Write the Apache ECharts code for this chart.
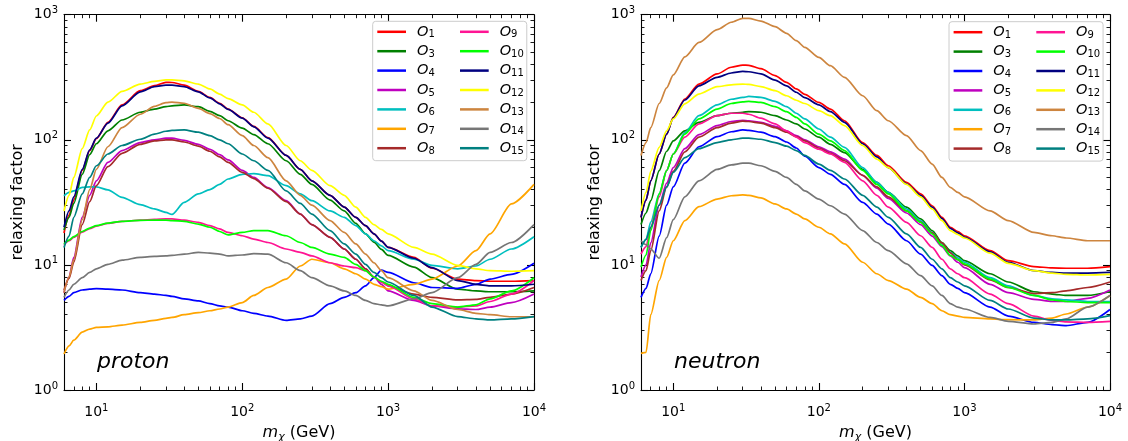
<!DOCTYPE html>
<html><head><meta charset="utf-8">
<script src="https://cdn.jsdelivr.net/npm/echarts@6/dist/echarts.min.js"></script>
<style>html,body{margin:0;padding:0;background:#fff}#c{width:1128px;height:441px}</style>
</head><body><div id="c"></div>
<script>
// ---------------- DATA ----------------
const mass = [6, 6.5, 7, 8, 9, 10, 12, 15, 20, 25, 30, 33, 40, 50, 60, 70, 80, 100, 120, 150, 200, 250, 300, 400, 500, 600, 700, 800, 900, 1000, 1500, 2000, 3000, 4000, 5000, 7000, 10000];
const operators = ['O1','O3','O4','O5','O6','O7','O8','O9','O10','O11','O12','O13','O14','O15'];
const xMajorTicks = [10, 100, 1000, 10000];
const xMinorTicks = [6,7,8,9,20,30,40,50,60,70,80,90,200,300,400,500,600,700,800,900,2000,3000,4000,5000,6000,7000,8000,9000];
const yMajorTicks = [1, 10, 100, 1000];
const yMinorTicks = [2,3,4,5,6,7,8,9,20,30,40,50,60,70,80,90,200,300,400,500,600,700,800,900];
const panelLabels = ['proton', 'neutron'];
const xTitle = 'm|χ| (GeV)';
const yTitle = 'relaxing factor';

// proton
const pO1  = [18, 25, 33, 57, 82, 102, 138, 190, 247, 271, 288, 287, 274, 244, 218, 196, 176, 150, 128, 104, 75, 58, 47, 36, 29, 24, 20.6, 17.7, 15.5, 13.8, 11.5, 9.4, 7.7, 7.5, 7.4, 7.4, 7.5];
const pO3  = [19, 24, 31, 53, 76, 93, 118, 144, 166, 176, 184, 187, 190, 184, 169, 156, 142, 124, 110, 93, 68, 53, 44, 33, 27, 21.5, 17.7, 15.2, 13.3, 11.9, 9.6, 7.9, 6.4, 6.2, 6.1, 6.1, 6.2];
const pO4  = [5.2, 5.6, 6.0, 6.3, 6.4, 6.45, 6.4, 6.3, 6.0, 5.85, 5.7, 5.6, 5.35, 5.15, 4.9, 4.7, 4.6, 4.3, 4.1, 3.9, 3.6, 3.7, 3.9, 4.9, 5.5, 6.0, 6.8, 7.9, 9.1, 8.7, 7.2, 6.6, 6.5, 7.0, 7.7, 8.4, 10.3];
const pO5  = [6.0, 8, 11.5, 24, 36, 47, 66, 82, 95, 100, 103, 103, 99, 92, 84, 76, 69, 57, 50, 41.5, 32.6, 25.5, 21, 16.6, 13.4, 11.1, 9.3, 8.0, 7.0, 6.2, 5.2, 4.7, 4.45, 4.4, 4.6, 5.0, 5.85];
const pO6  = [35.7, 38, 39, 41.7, 42, 42, 39.8, 34.7, 30.3, 28, 26.3, 25.3, 31.6, 37, 40, 44, 48.6, 53, 53.6, 51.7, 43, 37, 32.6, 27, 24, 20.6, 17.7, 15.6, 14.2, 13.0, 11.1, 9.9, 9.3, 9.8, 11.1, 13.4, 16.8];
const pO7  = [1.94, 2.25, 2.5, 2.9, 3.07, 3.17, 3.2, 3.3, 3.47, 3.6, 3.74, 3.8, 4.0, 4.15, 4.3, 4.44, 4.6, 5.0, 5.7, 6.6, 7.7, 9.8, 11.1, 10.4, 9.3, 8.5, 7.7, 7.0, 6.7, 6.4, 7.0, 7.7, 9.8, 13.0, 17.7, 30.7, 44];
const pO8  = [6.3, 7.8, 10.5, 21, 32, 43, 61, 78, 92, 98, 100, 100, 96, 89, 81, 73, 66, 55, 49, 41, 32, 25.5, 21, 16.6, 13.4, 11.1, 9.3, 8.0, 7.3, 6.8, 5.85, 5.5, 5.25, 5.3, 5.5, 5.85, 6.6];
const pO9  = [14.5, 15.6, 16.6, 18.3, 19.5, 20.4, 21.5, 22.3, 22.8, 23.1, 23.3, 23.3, 22.8, 21.9, 20.6, 19.4, 18.2, 17.1, 16.1, 15.1, 13.4, 12.6, 11.8, 10.4, 9.8, 9.5, 9.0, 8.0, 7.3, 6.8, 5.35, 4.7, 4.6, 4.7, 5.1, 5.85, 7.5];
const pO10 = [14.7, 15.8, 16.8, 18.5, 19.7, 20.6, 21.6, 22.3, 22.7, 22.8, 22.8, 22.6, 22.3, 21.2, 20.0, 18.5, 17.4, 18.2, 18.8, 18.8, 17.1, 15.1, 13.8, 12.2, 11.5, 10.1, 9.0, 8.0, 7.4, 7.0, 5.5, 4.9, 4.6, 4.8, 5.35, 6.2, 7.9];
const pO11 = [20, 27, 35, 58, 83, 103, 136, 187, 242, 266, 274, 274, 266, 242, 216, 194, 175, 149, 127, 103, 75, 58, 47, 36, 29, 24, 20.6, 17.7, 15.5, 13.8, 11.3, 9.5, 7.5, 7.0, 6.8, 6.8, 7.0];
const pO12 = [27, 36, 50, 85, 120, 155, 200, 244, 279, 293, 301, 301, 296, 279, 255, 232, 213, 190, 166, 134, 90, 68, 57, 43, 36, 29, 24, 21, 19.2, 17.7, 13.8, 12.2, 9.9, 9.3, 9.0, 8.9, 9.0];
const pO13 = [6.0, 8, 11, 23, 40, 58, 88, 125, 160, 185, 198, 200, 196, 178, 162, 148, 132, 108, 90, 72, 47, 36, 30, 22.6, 18.2, 14.7, 12.2, 10.4, 9.0, 7.9, 6.2, 5.2, 4.4, 4.1, 4.0, 3.85, 3.85];
const pO14 = [5.5, 6.3, 7.0, 7.9, 8.7, 9.3, 10.1, 10.9, 11.5, 11.7, 11.8, 11.9, 12.2, 12.6, 12.4, 12.2, 11.8, 12.0, 12.3, 12.2, 10.4, 9.0, 7.9, 6.8, 6.2, 5.7, 5.2, 4.9, 4.8, 4.7, 5.35, 6.0, 7.9, 10.1, 12.6, 15.1, 21];
const pO15 = [13.8, 17, 24, 37, 50, 62, 77, 90, 101, 111, 117, 119, 120, 115, 108, 100, 93, 77, 68, 57, 39, 31, 25.5, 18.8, 14.7, 12.2, 10.1, 8.7, 7.9, 7.3, 5.7, 4.6, 3.86, 3.7, 3.63, 3.7, 3.86];

// neutron
const nO1  = [24, 33, 47, 77, 111, 151, 212, 279, 336, 380, 396, 394, 370, 326, 288, 255, 231, 199, 176, 142, 95, 75, 62, 45.7, 37, 29.7, 24, 20, 18.5, 17.1, 13.0, 10.8, 9.7, 9.45, 9.4, 9.4, 9.7];
const nO3  = [21, 26, 32.6, 56.7, 81, 98, 118, 138, 156, 163, 166, 168, 166, 156, 144, 134, 122, 105, 92, 79, 58, 45.7, 38, 29, 23.3, 18.8, 15.1, 13.0, 11.8, 10.8, 8.5, 7.3, 6.1, 5.85, 5.7, 5.7, 6.1];
const nO4  = [5.5, 6.5, 8.5, 17, 30, 42, 65, 88, 106, 116, 120, 119, 115, 106, 96, 86, 74, 60, 53, 44, 31.6, 25.5, 21.2, 15.6, 12.2, 9.9, 8.2, 7.0, 6.5, 6.0, 4.6, 3.9, 3.47, 3.33, 3.27, 3.47, 4.4];
const nO5  = [8, 10, 15, 30, 45, 60, 85, 110, 130, 140, 143, 142, 138, 128, 118, 108, 100, 88, 80, 70, 52, 41, 34, 26, 21, 17, 14, 11.8, 10.5, 9.5, 7.0, 6.0, 5.3, 5.1, 5.1, 5.4, 6.3];
const nO6  = [13.8, 16, 22, 37, 56.7, 77, 114, 156, 190, 211, 218, 222, 218, 203, 184, 163, 147, 122, 105, 87, 60, 45.7, 38, 28, 22.6, 18.2, 14.7, 12.6, 11.4, 10.5, 7.9, 6.8, 5.7, 5.35, 5.25, 5.1, 5.1];
const nO7  = [1.96, 2.0, 4.0, 7.5, 11.5, 15.6, 22.6, 29.2, 33.6, 35.7, 36.3, 36, 34.3, 30.7, 28, 25.5, 23.3, 20, 17.7, 14.7, 10.5, 8.5, 7.5, 6.4, 5.5, 4.9, 4.3, 4.0, 3.9, 3.8, 3.7, 3.65, 3.63, 3.76, 4.05, 4.6, 5.7];
const nO8  = [7.5, 9, 13, 27, 42, 56, 80, 105, 125, 136, 141, 140, 136, 125, 115, 106, 98, 86, 78, 68, 52, 42, 35, 27, 22, 18, 15, 12.5, 11, 10, 7.6, 6.6, 5.9, 6.0, 6.2, 6.6, 7.3];
const nO9  = [12.2, 14, 20, 35, 56.7, 77, 105, 134, 156, 163, 163, 160, 149, 134, 118, 105, 95, 84, 77, 66, 47, 36, 29, 21.9, 17.1, 13.8, 11.1, 9.3, 8.5, 7.9, 5.85, 4.9, 3.9, 3.6, 3.5, 3.47, 3.54];
const nO10 = [9.6, 12, 18.8, 37, 56.7, 77, 111, 147, 176, 195, 201, 203, 199, 184, 168, 151, 134, 111, 98, 82, 57, 44, 37, 27, 21.9, 17.7, 14.3, 11.9, 11, 10.2, 7.7, 6.6, 5.7, 5.25, 5.1, 5.0, 5.0];
const nO11 = [24, 33, 47, 77, 111, 150, 208, 270, 316, 342, 352, 350, 337, 300, 270, 240, 217, 190, 168, 138, 93, 73, 60, 44.5, 36, 29, 23.5, 19.6, 18, 16.7, 12.7, 10.5, 9.0, 8.7, 8.6, 8.6, 8.7];
const nO12 = [27, 38, 56, 87, 118, 147, 194, 232, 266, 275, 279, 277, 266, 247, 225, 207, 195, 171, 156, 130, 90, 70, 60, 44, 35, 28, 22.6, 18.8, 17.5, 16.4, 12.4, 10.3, 9.0, 8.6, 8.4, 8.3, 8.4];
const nO13 = [75, 95, 125, 195, 260, 330, 460, 600, 760, 870, 935, 935, 890, 802, 710, 620, 548, 456, 391, 316, 225, 171, 142, 108, 82, 64, 50, 41.7, 38, 35, 27, 22.6, 18.2, 17.1, 16.4, 15.6, 15.6];
const nO14 = [15.6, 14.5, 13.4, 11.3, 16.5, 23, 35, 47, 58, 63, 65, 65, 62, 56, 50, 44, 39, 33.6, 29.7, 25.5, 18.8, 15.1, 13.0, 10.2, 8.2, 6.8, 5.7, 4.9, 4.6, 4.44, 3.8, 3.54, 3.37, 3.47, 3.7, 4.6, 5.7];
const nO15 = [13.8, 16, 20, 30, 42, 55, 72, 85, 95, 100, 103, 103, 101, 95, 89, 82, 75, 64, 57, 48.6, 36, 29, 24, 17.7, 13.8, 11.1, 9.3, 7.9, 7.3, 6.8, 5.2, 4.44, 3.76, 3.63, 3.63, 3.7, 3.93];

const protonSets  = [pO1, pO3, pO4, pO5, pO6, pO7, pO8, pO9, pO10, pO11, pO12, pO13, pO14, pO15];
const neutronSets = [nO1, nO3, nO4, nO5, nO6, nO7, nO8, nO9, nO10, nO11, nO12, nO13, nO14, nO15];

// ---------------- STYLE ----------------
const FONT = 'DejaVu Sans';
const lineColors = ['#ff0000','#008000','#0000ff','#bf00bf','#00bfbf','#ffa500','#a52a2a','#ff1493','#00ff00','#000080','#ffff00','#cd853f','#767676','#008080'];
const grids = [
  {left: 64, top: 14.7, width: 470, height: 375.3, outerBoundsMode: 'none', containLabel: false},
  {left: 641, top: 14.7, width: 469, height: 375.3, outerBoundsMode: 'none', containLabel: false}
];
const legendPos = [{left: 372.7, top: 21.3}, {left: 949, top: 21.7}];

function powLabel(v) {
  const e = Math.round(Math.log10(v));
  return '{b|10}{s|' + e + '}';
}
const labelRich = {
  b: {fontSize: 14, lineHeight: 18, fontFamily: FONT, color: '#000'},
  s: {fontSize: 10, lineHeight: 10, verticalAlign: 'top', fontFamily: FONT, color: '#000'}
};

function makeAxes(isX, g) {
  const major = isX ? xMajorTicks : yMajorTicks;
  const minor = isX ? xMinorTicks : yMinorTicks;
  const min = isX ? 6 : 1, max = isX ? 10000 : 1000;
  const pos = isX ? ['bottom', 'top'] : ['left', 'right'];
  const out = [];
  pos.forEach((p, pi) => {
    [major, minor].forEach((vals, mi) => {
      const main = pi === 0 && mi === 0;
      const ax = {
        type: 'log', logBase: 10, gridIndex: g, position: p, min: min, max: max,
        splitLine: {show: false},
        axisLine: {show: mi === 0, onZero: false, lineStyle: {color: '#000', width: 1.1}},
        axisTick: {show: true, inside: true, length: mi === 0 ? 7 : 3.5, customValues: vals,
                   lineStyle: {color: '#000', width: mi === 0 ? 1.1 : 0.9, opacity: 1}},
        axisLabel: {show: main, customValues: major, formatter: powLabel, rich: labelRich,
                    margin: isX ? 13 : 6, fontFamily: FONT, fontSize: 14, color: '#000'},
        axisPointer: {show: false}
      };
      if (main) {
        if (isX) {
          const parts = xTitle.split('|');
          ax.name = '{it|' + parts[0] + '}{sub|' + parts[1] + '}{n|' + parts[2] + '}';
          ax.nameLocation = 'middle';
          ax.nameGap = 33;
          ax.nameTextStyle = {fontFamily: FONT, fontSize: 16, color: '#000', rich: {
            it: {fontStyle: 'italic', fontSize: 16, lineHeight: 20, fontFamily: FONT, color: '#000'},
            sub: {fontStyle: 'italic', fontSize: 11, lineHeight: 9, verticalAlign: 'bottom', fontFamily: FONT, color: '#000'},
            n: {fontSize: 16, lineHeight: 20, fontFamily: FONT, color: '#000'}
          }};
        } else {
          ax.name = yTitle;
          ax.nameLocation = 'middle';
          ax.nameGap = 38;
          ax.nameTextStyle = {fontFamily: FONT, fontSize: 16, color: '#000'};
        }
      }
      out.push(ax);
    });
  });
  return out;
}

const xAxes = [].concat(makeAxes(true, 0), makeAxes(true, 1));
const yAxes = [].concat(makeAxes(false, 0), makeAxes(false, 1));

const series = [];
[protonSets, neutronSets].forEach((sets, g) => {
  sets.forEach((vals, k) => {
    series.push({
      type: 'line', name: operators[k], xAxisIndex: g * 4, yAxisIndex: g * 4,
      data: mass.map((m, i) => [m, vals[i]]),
      showSymbol: false, symbol: 'none', smooth: 0.25, smoothMonotone: 'x',
      color: lineColors[k],
      lineStyle: {width: 1.7, color: lineColors[k]},
      itemStyle: {color: lineColors[k]},
      silent: true, animation: false, z: 2 + k * 0.01
    });
  });
});

const legText = {
  color: '#000', fontFamily: FONT, padding: [0, 0, 0, 6],
  rich: {
    o: {fontStyle: 'italic', fontSize: 14.5, lineHeight: 16, fontFamily: FONT, color: '#000'},
    s: {fontSize: 10, lineHeight: 8, verticalAlign: 'bottom', fontFamily: FONT, color: '#000'}
  }
};
const legFmt = name => '{o|O}{s|' + name.slice(1) + '}';
const legends = [];
legendPos.forEach(lp => {
  legends.push({
    data: operators.slice(0, 7), orient: 'vertical', left: lp.left, top: lp.top,
    padding: [3, 92, 4.5, 4.6], itemGap: 3.9, itemWidth: 28.7, itemHeight: 2.5, icon: 'rect',
    borderColor: '#cccccc', borderWidth: 1, borderRadius: 3, backgroundColor: 'rgba(255,255,255,0.8)',
    formatter: legFmt, textStyle: legText, selectedMode: false
  });
  legends.push({
    data: operators.slice(7), orient: 'vertical', left: lp.left + 87.3, top: lp.top + 3,
    padding: 0, itemGap: 3.9, itemWidth: 28.7, itemHeight: 2.5, icon: 'rect',
    formatter: legFmt, textStyle: legText, selectedMode: false
  });
});

const titles = panelLabels.map((t, g) => ({
  text: t, left: g === 0 ? 97 : 674, top: 351, padding: 0,
  textStyle: {fontStyle: 'italic', fontWeight: 'normal', fontSize: 22, fontFamily: FONT, color: '#000'}
}));

const chart = echarts.init(document.getElementById('c'), null, {renderer: 'canvas'});
chart.setOption({
  animation: false,
  backgroundColor: '#fff',
  title: titles,
  grid: grids,
  xAxis: xAxes,
  yAxis: yAxes,
  legend: legends,
  series: series
});
</script>
</body></html>
